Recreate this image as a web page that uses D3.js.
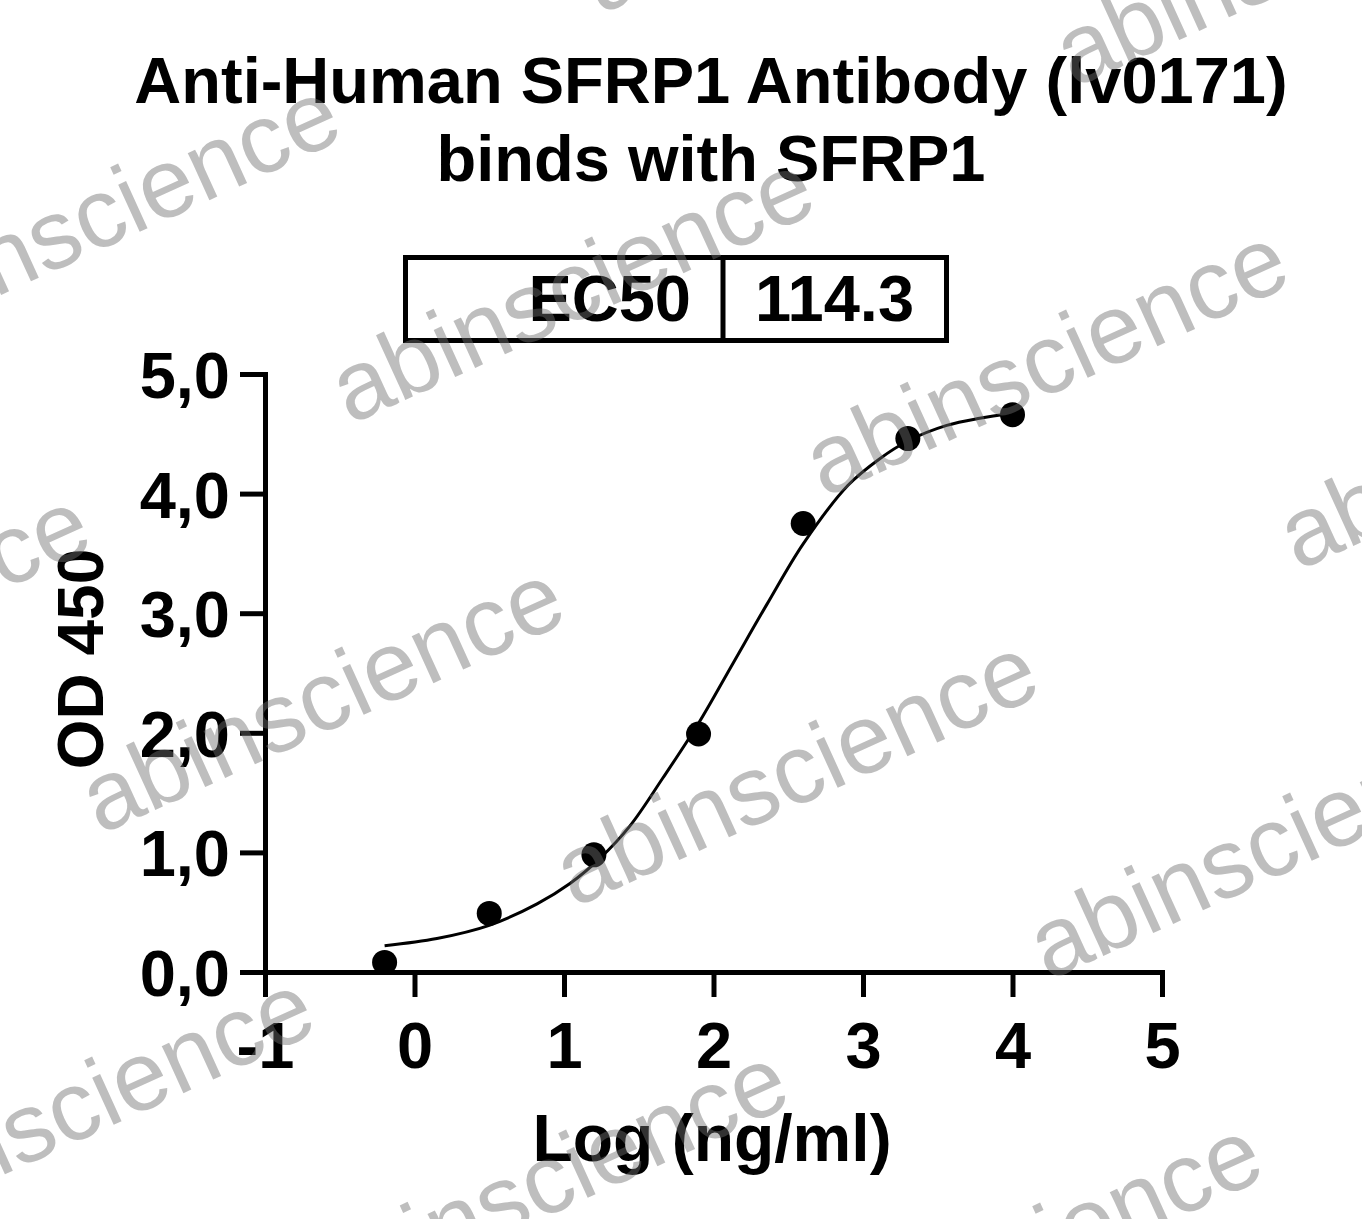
<!DOCTYPE html>
<html>
<head>
<meta charset="utf-8">
<script src="https://cdn.jsdelivr.net/npm/d3@7"></script>
<style>
  body { margin: 0; background: #fff; }
  svg text { font-family: "Liberation Sans", Arial, sans-serif; }
</style>
</head>
<body>
<div id="chart"></div>
<script>
// Data
const logConc = [-0.2, 0.5, 1.2, 1.9, 2.6, 3.3, 4.0];
const od450 = [0.08, 0.49, 0.98, 1.99, 3.75, 4.46, 4.66];

// fitted curve as drawn
const curveX = [-0.2, 0.15, 0.5, 0.82, 1.04, 1.24, 1.44, 1.66, 1.9, 2.13, 2.36, 2.6, 2.9, 3.11, 3.3, 3.56, 3.78, 4.0];
const curveY = [0.22, 0.28, 0.39, 0.57, 0.74, 0.95, 1.22, 1.62, 2.08, 2.58, 3.08, 3.58, 4.07, 4.29, 4.44, 4.57, 4.63, 4.67];

const xTicks = [-1, 0, 1, 2, 3, 4, 5];
const yTicks = [0, 1, 2, 3, 4, 5];
const titleLines = ["Anti-Human SFRP1 Antibody (lv0171)", "binds with SFRP1"];
const ec50Label = "EC50";
const ec50Value = "114.3";

const width = 1362, height = 1219;

var svg = d3.select("#chart")
  .append("svg")
  .attr("width", width)
  .attr("height", height);

svg.append("rect").attr("width", width).attr("height", height).attr("fill", "#fff");

// Scales
var xScale = d3.scaleLinear().domain([-1, 5]).range([265, 1162]);
var yScale = d3.scaleLinear().domain([0, 5]).range([972, 374]);

// Title
svg.selectAll(".title")
  .data(titleLines)
  .enter()
  .append("text")
  .attr("class", "title")
  .attr("x", 711)
  .attr("y", function(d, i) { return 103 + i * 78; })
  .attr("text-anchor", "middle")
  .style("font-size", "65px")
  .style("font-weight", "bold")
  .text(function(d) { return d; });

// EC50 box
var box = svg.append("g");
box.append("rect")
  .attr("x", 405.5).attr("y", 257.5)
  .attr("width", 541).attr("height", 83)
  .attr("fill", "none").attr("stroke", "#000").attr("stroke-width", 5);
box.append("line")
  .attr("x1", 723).attr("x2", 723).attr("y1", 257.5).attr("y2", 340.5)
  .attr("stroke", "#000").attr("stroke-width", 5);
box.append("text")
  .attr("x", 691).attr("y", 321)
  .attr("text-anchor", "end")
  .style("font-size", "65px").style("font-weight", "bold")
  .text(ec50Label);
box.append("text")
  .attr("x", 755).attr("y", 321)
  .style("font-size", "65px").style("font-weight", "bold")
  .text(ec50Value);

// Y Axis
var yAxis = svg.append("g")
  .attr("transform", "translate(265,0)")
  .call(d3.axisLeft(yScale)
    .tickValues(yTicks)
    .tickSize(25)
    .tickSizeOuter(0)
    .tickPadding(10)
    .tickFormat(function(d) { return d.toFixed(1).replace(".", ","); }));

// X Axis
var xAxis = svg.append("g")
  .attr("transform", "translate(0,972)")
  .call(d3.axisBottom(xScale)
    .tickValues(xTicks)
    .tickSize(25)
    .tickSizeOuter(0)
    .tickFormat(function(d) { return String(d); }));

[yAxis, xAxis].forEach(function(ax) {
  ax.select(".domain").attr("stroke", "#000").attr("stroke-width", 5).attr("stroke-linecap", "square");
  ax.selectAll(".tick line").attr("stroke", "#000").attr("stroke-width", 5);
  ax.selectAll(".tick text")
    .attr("fill", "#000")
    .style("font-family", "'Liberation Sans', Arial, sans-serif")
    .style("font-size", "65px")
    .style("font-weight", "bold");
});
yAxis.selectAll(".tick text").attr("dy", "0.36em");
xAxis.selectAll(".tick text").attr("dy", null).attr("y", 96);

// Axis titles
svg.append("text")
  .attr("x", 712).attr("y", 1161)
  .attr("text-anchor", "middle")
  .style("font-size", "66px").style("font-weight", "bold")
  .text("Log (ng/ml)");

svg.append("text")
  .attr("transform", "translate(103,659) rotate(-90)")
  .attr("text-anchor", "middle")
  .style("font-size", "64px").style("font-weight", "bold")
  .text("OD 450");

// Fitted curve
var line = d3.line()
  .x(function(d) { return xScale(d[0]); })
  .y(function(d) { return yScale(d[1]); })
  .curve(d3.curveCatmullRom.alpha(0.5));

svg.append("path")
  .datum(curveX.map(function(x, i) { return [x, curveY[i]]; }))
  .attr("d", line)
  .attr("fill", "none")
  .attr("stroke", "#000")
  .attr("stroke-width", 3);

// Dots
svg.selectAll(".dot")
  .data(logConc.map(function(x, i) { return [x, od450[i]]; }))
  .enter()
  .append("circle")
  .attr("class", "dot")
  .attr("cx", function(d) { return xScale(d[0]); })
  .attr("cy", function(d) { return yScale(d[1]); })
  .attr("r", 12.5)
  .attr("fill", "#000");

// Watermark tiles
var marks = [];
for (var i = -3; i <= 4; i++) {
  for (var j = -2; j <= 4; j++) {
    var mx = 350 + i * 474 - j * 250;
    var my = 425 + i * 73 + j * 410;
    if (mx > -700 && mx < width + 50 && my > -50 && my < height + 300) marks.push([mx, my]);
  }
}
svg.append("g")
  .style("pointer-events", "none")
  .selectAll("text")
  .data(marks)
  .enter()
  .append("text")
  .attr("transform", function(d) { return "translate(" + d[0] + "," + d[1] + ") rotate(-24.5)"; })
  .style("font-size", "98px")
  .attr("fill", "#6e6e6e")
  .attr("fill-opacity", 0.45)
  .text("abinscience");
</script>
</body>
</html>
